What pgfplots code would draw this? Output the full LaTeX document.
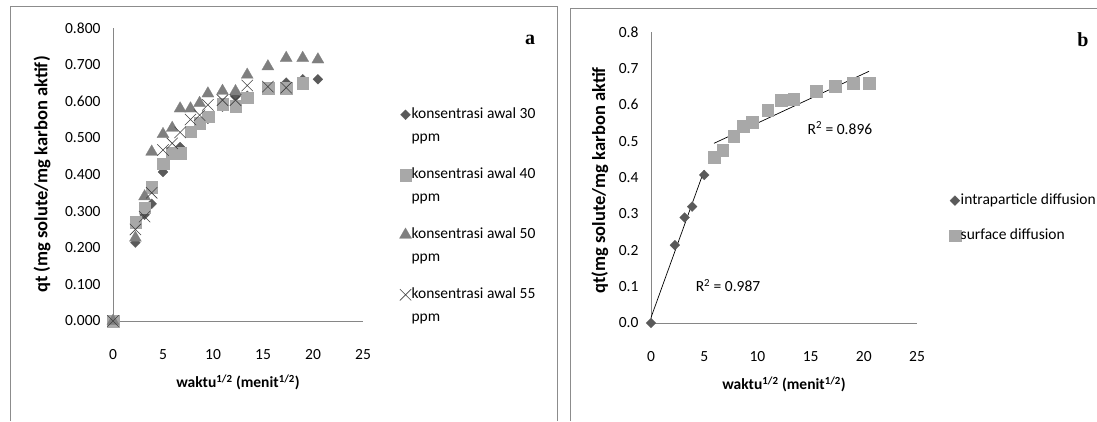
\documentclass[border=0pt]{standalone}
\usepackage{fontspec}
\setmainfont{Carlito}
\newfontfamily\panelfont{Liberation Serif}
\usepackage{pgfplots}
\pgfplotsset{compat=1.18}
\definecolor{dia}{HTML}{5A5A5A}
\definecolor{sqr}{HTML}{A8A8A8}
\definecolor{tri}{HTML}{7F7F7F}
\definecolor{crs}{HTML}{404040}
\definecolor{axgray}{HTML}{868686}
\definecolor{framegray}{HTML}{8C8C8C}

\pgfplotsset{
  xlchart/.style={
    scale only axis,
    clip=false,
    axis x line=bottom, axis y line=left,
    axis line style={-, draw=axgray, line width=0.9pt},
    major tick length=0pt,
    xmin=0, xmax=25, ymin=0, ymax=0.8,
    xtick={0,5,10,15,20,25},
    ytick={0,0.1,0.2,0.3,0.4,0.5,0.6,0.7,0.8},
    tick label style={font=\fontsize{15.5}{18}\selectfont, /pgf/number format/assume math mode=true},
    xticklabel style={yshift=-25pt},
    yticklabel style={xshift=-9pt},
    xlabel style={font=\bfseries\fontsize{15.5}{18}\selectfont},
    ylabel style={font=\bfseries\fontsize{18.5}{21}\selectfont},
    legend image code/.code={\draw[#1] plot coordinates {(0pt,3.5pt)};},
    legend style={draw=none, fill=none, inner sep=0pt, anchor=north west,
      font=\fontsize{15.5}{18}\selectfont,
      cells={anchor=base west},
      nodes={inner sep=0pt, text height=11pt, text depth=4pt},
      /tikz/every even column/.append style={column sep=4pt}},
  },
  mdia/.style={only marks, color=dia, mark=square*, mark size=3.5pt, mark options={solid, rotate=45, fill=dia, draw=dia, line width=0.2pt}},
  msqr/.style={only marks, color=sqr, mark=square*, mark size=5.8pt, mark options={solid, fill=sqr, draw=sqr, line width=0.2pt}},
  mtri/.style={only marks, color=tri, mark=triangle*, mark size=7pt, mark options={solid, fill=tri, draw=tri, line width=0.2pt}},
  mcrs/.style={only marks, color=crs, mark=x, mark size=8pt, mark options={solid, draw=crs, line width=0.6pt}},
}

\begin{document}
\begin{tikzpicture}
\useasboundingbox (0pt,0pt) rectangle (1097pt,421pt);
% panel frames
\draw[framegray, line width=1pt] (10pt,0pt) -- (10pt,414pt) -- (557pt,414pt) -- (557pt,0pt);
\draw[framegray, line width=1pt] (570pt,0pt) -- (570pt,412pt) -- (1097pt,412pt);
\node[font=\panelfont\bfseries\fontsize{20}{22}\selectfont] at (530pt,381pt) {a};
\node[font=\panelfont\bfseries\fontsize{20}{22}\selectfont] at (1083pt,381pt) {b};

% ---- panel a
\begin{axis}[xlchart,
  at={(113pt,100pt)}, anchor=south west,
  width=250pt, height=293pt,
  yticklabel style={/pgf/number format/.cd, fixed, fixed zerofill, precision=3},
  xlabel={waktu\textsuperscript{1/2} (menit\textsuperscript{1/2})},
  ylabel={qt (mg solute/mg karbon aktif)},
  xlabel style={at={(axis description cs:0.5,-0.21)}, anchor=center},
  ylabel style={at={(axis description cs:-0.284,0.5)}, anchor=center},
  legend style={at={(axis description cs:1.145,0.73)}, row sep=8pt},
]
\addplot[mdia] coordinates {
  (0,0) (2.24,0.214) (3.16,0.290) (3.87,0.320) (5.00,0.407) (5.92,0.456)
  (6.71,0.475) (7.75,0.514) (8.66,0.541) (9.49,0.552) (10.95,0.585)
  (12.25,0.613) (13.42,0.615) (15.49,0.637) (17.32,0.651) (18.97,0.660) (20.49,0.660)
};
\addlegendentry{konsentrasi awal 30}
\addlegendimage{empty legend}
\addlegendentry[text depth=18pt]{ppm}
\addplot[msqr] coordinates {
  (0,0) (2.24,0.270) (3.16,0.310) (3.87,0.366) (5.00,0.430) (5.92,0.459)
  (6.71,0.459) (7.75,0.517) (8.66,0.540) (9.49,0.558) (10.95,0.593)
  (12.25,0.587) (13.42,0.610) (15.49,0.636) (17.32,0.636) (18.97,0.650)
};
\addlegendentry{konsentrasi awal 40}
\addlegendimage{empty legend}
\addlegendentry[text depth=18pt]{ppm}
\addplot[mtri] coordinates {
  (0,0) (2.24,0.227) (3.16,0.340) (3.87,0.462) (5.00,0.510) (5.92,0.527)
  (6.71,0.580) (7.75,0.580) (8.66,0.595) (9.49,0.621) (10.95,0.628)
  (12.25,0.627) (13.42,0.672) (15.49,0.695) (17.32,0.718) (18.97,0.718) (20.49,0.714)
};
\addlegendentry{konsentrasi awal 50}
\addlegendimage{empty legend}
\addlegendentry[text depth=18pt]{ppm}
\addplot[mcrs] coordinates {
  (0,0) (2.24,0.250) (3.16,0.285) (3.87,0.350) (5.00,0.467) (5.92,0.485)
  (6.71,0.515) (7.75,0.550) (8.66,0.562) (9.49,0.590) (10.95,0.603)
  (12.25,0.603) (13.42,0.643) (15.49,0.640) (17.32,0.637)
};
\addlegendentry{konsentrasi awal 55}
\addlegendimage{empty legend}
\addlegendentry{ppm}
\end{axis}

% ---- panel b
\begin{axis}[xlchart,
  at={(651pt,98pt)}, anchor=south west,
  width=266pt, height=291pt,
  yticklabel style={/pgf/number format/.cd, fixed, fixed zerofill, precision=1},
  xlabel={waktu\textsuperscript{1/2} (menit\textsuperscript{1/2})},
  ylabel={qt(mg solute/mg karbon aktif},
  xlabel style={at={(axis description cs:0.5,-0.21)}, anchor=center},
  ylabel style={at={(axis description cs:-0.192,0.49)}, anchor=center},
  legend style={at={(axis description cs:1.12,0.447)}, row sep=20pt},
]
\addplot[mdia] coordinates {
  (0,0) (2.24,0.214) (3.16,0.290) (3.87,0.320) (5.00,0.407)
};
\addlegendentry{intraparticle diffusion}
\addplot[msqr] coordinates {
  (5.92,0.456) (6.71,0.475) (7.75,0.514) (8.66,0.541) (9.49,0.552) (10.95,0.585)
  (12.25,0.613) (13.42,0.615) (15.49,0.637) (17.32,0.651) (18.97,0.660) (20.49,0.660)
};
\addlegendentry{surface diffusion}
% linear trend lines
\addplot[forget plot, black, line width=0.7pt] coordinates {(0,0.015) (5.0,0.420)};
\addplot[forget plot, black, line width=0.7pt] coordinates {(5.92,0.494) (20.49,0.692)};
\node[font=\fontsize{15.5}{18}\selectfont] at (axis cs:7.24,0.104) {R\textsuperscript{2} = 0.987};
\node[font=\fontsize{15.5}{18}\selectfont] at (axis cs:17.76,0.536) {R\textsuperscript{2} = 0.896};
\end{axis}
\end{tikzpicture}
\end{document}
